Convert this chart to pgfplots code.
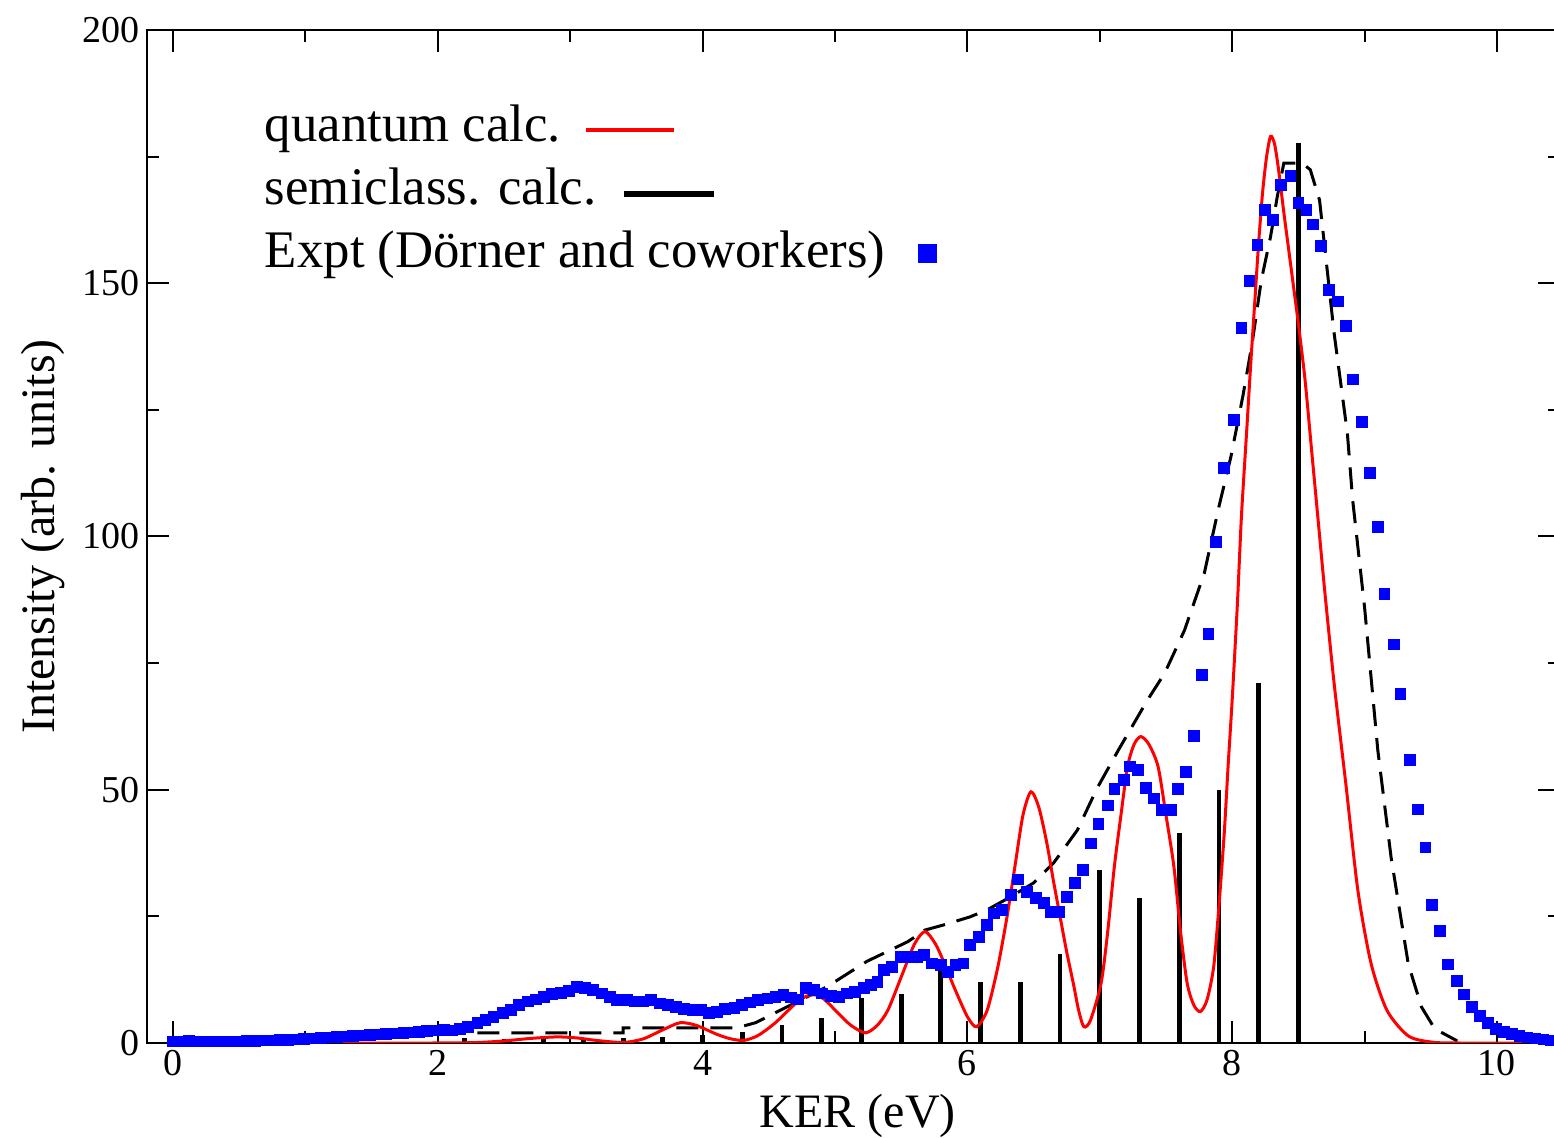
\documentclass[border=0pt]{standalone}
\usepackage{pgfplots}
\pgfplotsset{compat=1.18}
\usepackage{fontspec}
\setmainfont{Liberation Serif}
\usepackage{xcolor}

\pgfplotstableread{
x y
0.00 0.3
0.06 0.3
0.12 0.4
0.19 0.3
0.25 0.3
0.31 0.3
0.37 0.3
0.43 0.3
0.50 0.3
0.56 0.4
0.62 0.4
0.68 0.5
0.74 0.5
0.81 0.6
0.87 0.6
0.93 0.7
0.99 0.8
1.05 0.9
1.12 1.0
1.18 1.1
1.24 1.2
1.30 1.3
1.36 1.4
1.43 1.5
1.49 1.6
1.55 1.7
1.61 1.8
1.67 1.9
1.74 2.0
1.80 2.1
1.86 2.2
1.92 2.4
1.98 2.5
2.05 2.6
2.11 2.5
2.17 2.8
2.23 3.2
2.30 3.9
2.36 4.5
2.42 5.2
2.49 5.9
2.55 6.5
2.61 7.5
2.68 8.2
2.74 8.6
2.80 9.1
2.86 9.7
2.93 9.9
2.99 10.3
3.05 11.0
3.11 10.8
3.17 10.5
3.24 9.8
3.30 9.1
3.35 8.5
3.43 8.5
3.49 8.2
3.55 8.2
3.61 8.5
3.68 7.8
3.74 7.5
3.80 7.2
3.86 6.8
3.93 6.5
3.99 6.5
4.05 5.9
4.11 6.2
4.17 6.7
4.24 7.0
4.30 7.5
4.36 8.0
4.42 8.5
4.49 8.8
4.55 9.1
4.61 9.5
4.67 9.0
4.72 8.6
4.78 10.8
4.84 10.5
4.90 9.8
4.97 9.3
5.03 9.1
5.09 9.8
5.15 10.1
5.22 10.8
5.27 11.5
5.32 12.1
5.37 14.4
5.43 15.1
5.50 17.0
5.56 17.0
5.62 17.0
5.67 17.4
5.73 15.7
5.80 15.4
5.85 14.1
5.91 15.4
5.97 15.7
6.02 19.3
6.09 21.0
6.15 23.3
6.20 25.6
6.26 26.3
6.33 29.2
6.38 32.3
6.45 29.9
6.52 28.6
6.58 27.6
6.63 25.9
6.69 25.9
6.75 28.9
6.81 31.6
6.87 34.2
6.93 39.4
6.99 43.2
7.06 46.9
7.11 50.1
7.18 51.9
7.23 54.6
7.29 53.9
7.35 50.3
7.41 48.3
7.47 46.0
7.54 46.0
7.59 50.1
7.65 53.6
7.71 60.6
7.77 72.7
7.82 80.8
7.88 99.0
7.94 113.5
8.01 123.0
8.07 141.2
8.13 150.4
8.19 157.5
8.25 164.5
8.31 162.5
8.37 169.4
8.44 171.2
8.50 165.8
8.56 164.5
8.61 161.6
8.67 157.4
8.73 148.7
8.80 146.4
8.86 141.6
8.91 131.0
8.98 122.7
9.04 112.5
9.10 101.9
9.15 88.7
9.22 78.7
9.27 68.9
9.34 55.9
9.40 46.1
9.46 38.6
9.51 27.3
9.57 22.1
9.63 15.5
9.70 12.2
9.75 9.6
9.81 7.1
9.87 5.3
9.93 3.9
9.99 2.8
10.05 2.2
10.11 1.8
10.17 1.4
10.23 1.1
10.29 0.9
10.35 0.7
10.41 0.5
}\expt

\pgfplotstableread{
x y
0.00 0
1.00 0
2.00 0
2.30 0.1
2.50 0.4
2.70 0.9
2.90 1.2
3.05 1.0
3.20 0.5
3.40 0.1
3.55 0.8
3.70 2.6
3.83 4.0
3.95 3.5
4.10 1.8
4.20 0.9
4.31 0.5
4.42 1.5
4.55 4.0
4.69 7.5
4.78 9.2
4.85 9.5
4.92 8.6
5.02 6.0
5.12 3.5
5.23 2.0
5.32 3.5
5.40 6.5
5.50 13.0
5.60 19.5
5.68 22.0
5.76 19.5
5.83 15.5
5.90 11.0
6.00 5.2
6.07 3.2
6.15 6.5
6.23 15.0
6.30 25.0
6.36 35.0
6.42 45.0
6.48 49.6
6.54 46.5
6.60 39.5
6.65 32.0
6.70 25.0
6.75 18.0
6.80 11.8
6.84 6.5
6.88 3.2
6.93 4.5
7.01 11.8
7.06 22.0
7.11 34.8
7.16 45.0
7.21 54.6
7.26 59.0
7.31 60.5
7.37 59.0
7.44 54.6
7.50 45.0
7.56 34.8
7.61 22.0
7.66 11.8
7.71 7.5
7.76 6.2
7.81 8.5
7.86 15.0
7.90 27.0
7.94 41.4
7.97 55.0
8.00 67.7
8.04 87.0
8.07 104.0
8.11 121.0
8.14 134.0
8.17 146.0
8.20 158.0
8.23 168.0
8.26 175.0
8.29 179.0
8.32 177.5
8.35 172.5
8.39 164.0
8.42 158.0
8.46 150.0
8.50 142.0
8.55 131.0
8.60 117.0
8.65 103.0
8.70 89.0
8.77 71.0
8.86 50.8
8.95 30.0
9.05 15.6
9.17 6.4
9.33 1.4
9.50 0.2
9.70 0
10.48 0
}\quantum

\pgfplotstableread{
x y
2.30 2.0
3.40 2.0
3.40 3.0
4.26 3.0
4.40 4.0
4.59 6.5
4.94 11.1
5.24 16.1
5.55 20.0
5.68 22.3
5.82 23.3
6.02 24.9
6.15 26.3
6.33 28.9
6.50 31.6
6.65 35.5
6.83 42.0
6.98 50.3
7.14 57.8
7.36 67.7
7.49 73.0
7.64 81.5
7.79 92.8
7.90 105.9
7.99 115.7
8.08 127.6
8.15 138.0
8.22 150.6
8.29 159.2
8.34 167.0
8.39 173.7
8.53 173.7
8.59 172.4
8.66 166.4
8.77 140.1
8.87 120.4
8.91 107.2
9.00 86.0
9.10 57.8
9.20 36.7
9.33 15.6
9.43 7.1
9.53 2.8
9.70 0.4
}\semiconv

\pgfplotstableread{
x y
2.2 1.0
2.5 0.8
2.8 1.0
3.1 0.8
3.4 1.0
3.7 1.2
4.0 1.5
4.3 2.2
4.6 3.6
4.9 5.0
5.2 8.9
5.5 9.7
5.8 14.5
6.1 12.1
6.4 12.1
6.7 17.6
7.0 34.2
7.3 28.7
7.6 41.4
7.9 50.0
8.2 71.0
8.5 177.7
}\sticks

\begin{document}
\begin{tikzpicture}
\begin{axis}[
  name=ax,
  scale only axis,
  width=706.5pt, height=506.5pt,
  xmin=-0.196, xmax=10.476,
  ymin=0, ymax=200,
  xtick={0,2,...,10},
  ytick={0,50,...,200},
  minor x tick num=1,
  minor y tick num=1,
  tick align=inside,
  major tick length=11pt,
  minor tick length=6pt,
  every tick/.style={black, line width=1pt},
  axis line style={line width=1.3pt},
  /pgf/number format/assume math mode=true,
  tick label style={font=\fontsize{19}{22}\selectfont},
  xlabel={KER (eV)},
  ylabel={Intensity (arb. units)},
  every axis x label/.style={at={(axis description cs:0.503,-0.0839)}, anchor=base, font=\fontsize{24}{28}\selectfont},
  every axis y label/.style={at={(axis description cs:-0.0654,0.5)}, anchor=base, rotate=90, font=\fontsize{24}{28}\selectfont},
  clip=true,
  legend style={draw=none, fill=none, at={(axis description cs:0.0835,0.929)}, anchor=north west,
    inner sep=0pt, outer sep=0pt, row sep=3.5pt,
    font=\fontsize{26.4}{31.5}\selectfont,
    legend plot pos=none,
    nodes={inner sep=0pt, text height=20pt, text depth=8pt, anchor=base west}},
  legend cell align=left,
]
\addplot[only marks, mark=square*, mark size=2.7pt, color=blue, forget plot] table[x=x,y=y] {\expt};
\addplot[ycomb, black, line width=2.4pt, forget plot] table[x=x,y=y] {\sticks};
\addplot[black, line width=1.5pt, dash pattern=on 11pt off 6pt, forget plot] table[x=x,y=y] {\semiconv};
\addplot[red, line width=1.5pt, smooth, tension=0.45, forget plot] table[x=x,y=y] {\quantum};
\addlegendimage{empty legend}
\addlegendentry{quantum calc.\hspace{12.5pt}\textcolor{red}{\rule[5.1pt]{44pt}{1.9pt}}}
\addlegendimage{empty legend}
\addlegendentry{semiclass. calc.\hspace{14pt}\rule[4.2pt]{45pt}{2.6pt}}
\addlegendimage{empty legend}
\addlegendentry{Expt (Dörner and coworkers)\hspace{16.5pt}\textcolor{blue}{\rule[2.5pt]{9.5pt}{9.5pt}}}
\end{axis}
\pgfresetboundingbox
\path[use as bounding box] ([xshift=-73.5pt,yshift=-47.5pt]ax.south west) rectangle ([xshift=-3pt,yshift=15pt]ax.north east);
\end{tikzpicture}
\end{document}
